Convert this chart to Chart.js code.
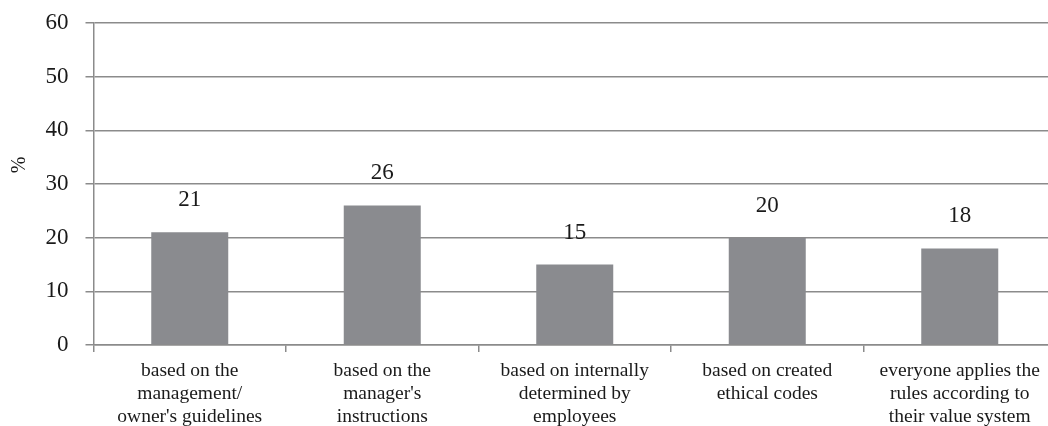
<!DOCTYPE html>
<html>
<head>
<meta charset="utf-8">
<script src="https://cdn.jsdelivr.net/npm/chart.js@4/dist/chart.umd.min.js"></script>
<style>
  html, body { margin: 0; padding: 0; background: #fff; overflow: hidden; }
  canvas { display: block; }
</style>
</head>
<body>
<!-- canvas is a bit larger than the window: the plot runs off the right edge -->
<canvas id="chart" width="1056" height="436"></canvas>
<script>
const categories = [
  ['based on the', 'management/', "owner's guidelines"],
  ['based on the', "manager's", 'instructions'],
  ['based on internally', 'determined by', 'employees'],
  ['based on created', 'ethical codes'],
  ['everyone applies the', 'rules according to', 'their value system']
];
const shares = [21, 26, 15, 20, 18];
const yTicks = { min: 0, max: 60, step: 10 };
const yTitle = '%';

const FONT = '"Liberation Serif", "Times New Roman", serif';
const LINE = '#8b8b8b';
const INK = '#1a1a1a';

// value printed above each bar
const barLabels = {
  id: 'barLabels',
  afterDatasetsDraw(chart) {
    const { ctx } = chart;
    const meta = chart.getDatasetMeta(0);
    ctx.save();
    ctx.font = `23px ${FONT}`;
    ctx.fillStyle = INK;
    ctx.textAlign = 'center';
    ctx.textBaseline = 'middle';
    meta.data.forEach((bar, i) => {
      ctx.fillText(String(shares[i]), bar.x, bar.y - 32);
    });
    ctx.restore();
  }
};

// rotated axis title, sits a bit above the middle of the plot
const axisTitle = {
  id: 'axisTitle',
  afterDraw(chart) {
    const { ctx, chartArea } = chart;
    ctx.save();
    ctx.translate(20, (chartArea.top + chartArea.bottom) / 2 - 19);
    ctx.rotate(-Math.PI / 2);
    ctx.font = `20px ${FONT}`;
    ctx.fillStyle = INK;
    ctx.textAlign = 'center';
    ctx.textBaseline = 'middle';
    ctx.fillText(yTitle, 0, 0);
    ctx.restore();
  }
};

new Chart(document.getElementById('chart'), {
  type: 'bar',
  data: {
    labels: categories,
    datasets: [{
      data: shares,
      backgroundColor: '#8a8b8f',
      borderWidth: 0,
      categoryPercentage: 1,
      barPercentage: 0.4
    }]
  },
  options: {
    responsive: false,
    animation: false,
    layout: { padding: { top: 23, right: 0, bottom: 1, left: 28.5 } },
    plugins: {
      legend: { display: false },
      tooltip: { enabled: false }
    },
    scales: {
      x: {
        grid: { drawOnChartArea: false, offset: true, tickLength: 7, color: LINE, lineWidth: 1.5 },
        border: { color: LINE, width: 1.5 },
        ticks: {
          font: { family: FONT, size: 19.5, lineHeight: 1.18 },
          color: INK,
          maxRotation: 0,
          autoSkip: false,
          padding: 7
        }
      },
      y: {
        min: yTicks.min,
        max: yTicks.max,
        grid: { color: LINE, lineWidth: 1.5, tickLength: 8 },
        border: { color: LINE, width: 1.5 },
        ticks: {
          stepSize: yTicks.step,
          font: { family: FONT, size: 23 },
          color: INK,
          padding: 17
        },
        afterFit(scale) {
          scale.paddingTop = 0;
          scale.paddingBottom = 0;
        }
      }
    }
  },
  plugins: [barLabels, axisTitle]
});
</script>
</body>
</html>
